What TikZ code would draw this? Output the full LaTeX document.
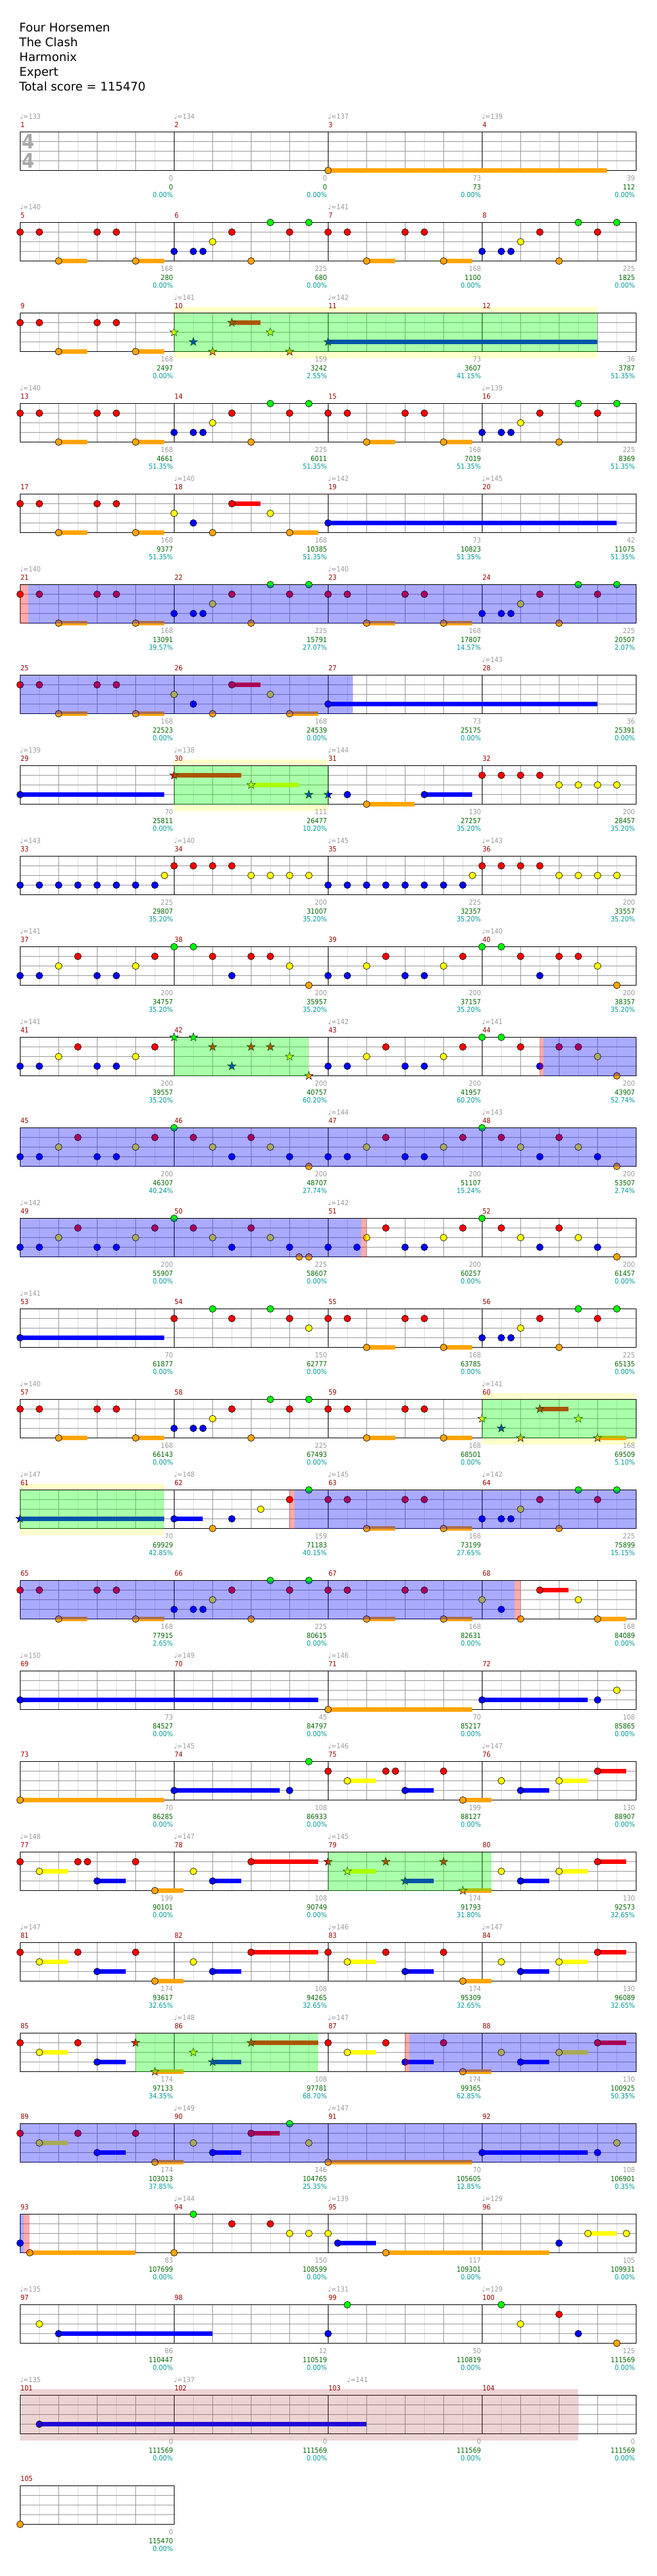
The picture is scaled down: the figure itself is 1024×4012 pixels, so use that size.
\documentclass[tikz,border=0pt]{standalone}
\usepackage{fontspec}
\setmainfont{DejaVu Sans}
\newfontfamily\djv{DejaVu Sans}
\newfontfamily\condf{DejaVu Sans Condensed}
\definecolor{lane0}{HTML}{00FF00}
\definecolor{lane1}{HTML}{FF0000}
\definecolor{lane2}{HTML}{FFFF00}
\definecolor{lane3}{HTML}{0000FF}
\definecolor{lane4}{HTML}{FFA500}
\definecolor{gridd}{HTML}{999999}
\definecolor{gridl}{HTML}{DDDDDD}
\definecolor{mnum}{HTML}{990000}
\definecolor{cumc}{HTML}{006600}
\definecolor{pctc}{HTML}{009999}
\definecolor{scc}{HTML}{999999}
\definecolor{tsgray}{HTML}{A8A8A8}
\definecolor{yel}{HTML}{FFFFCC}
\definecolor{ovG}{HTML}{00FF00}
\definecolor{ovB}{HTML}{0000FF}
\definecolor{ovR}{HTML}{FF0000}
\definecolor{ovBr}{HTML}{A52A2A}
\tikzset{
  notest/.style={draw=black,line width=0.6pt},
  gridlight/.style={draw=gridl,line width=0.9pt},
  griddark/.style={draw=gridd,line width=0.9pt},
  measl/.style={draw=black,line width=1pt},
  borderl/.style={draw=black,line width=1.3pt},
  lab/.style={font=\condf\fontsize{11}{11}\selectfont,inner sep=0pt},
  hdr/.style={font=\djv\fontsize{18.5}{18.5}\selectfont,inner sep=0pt,anchor=base west},
  tsig/.style={font=\condf\bfseries\fontsize{31}{31}\selectfont,text=tsgray,inner sep=0pt}
}
\newcount\cntA
\newcommand\setxy[3]{%
  \cntA=#1\relax\advance\cntA by -1\relax\divide\cntA by 4\relax
  \edef\mR{\the\cntA}%
  \edef\mI{\the\numexpr #1-1-4*\mR\relax}%
  \pgfmathsetmacro\xx{31.33+240*\mI+15*(#2)}%
  \pgfmathsetmacro\yy{205.5+141*\mR+15*(#3)}}
\newcommand\nt[3]{\setxy{#1}{#2}{#3}\filldraw[notest,fill=lane#3] (\xx,\yy) circle[radius=5.3];}
\newcommand\nsus[4]{\setxy{#1}{#2}{#3}\fill[lane#3] (\xx,\yy-3.2) rectangle ++(15*#4,6.4);\filldraw[notest,fill=lane#3] (\xx,\yy) circle[radius=5.3];}
\newcommand\starat[1]{\filldraw[fill=#1,draw=black,line width=0.5pt,shift={(\xx,\yy)}] (-90:6.8) -- (-54:2.8) -- (-18:6.8) -- (18:2.8) -- (54:6.8) -- (90:2.8) -- (126:6.8) -- (162:2.8) -- (198:6.8) -- (234:2.8) -- cycle;}
\newcommand\nstar[3]{\setxy{#1}{#2}{#3}\starat{lane#3}}
\newcommand\nstarsus[4]{\setxy{#1}{#2}{#3}\fill[lane#3] (\xx,\yy-3.2) rectangle ++(15*#4,6.4);\starat{lane#3}}
\newcommand\patA[1]{\nt{#1}{0}{1}\nt{#1}{2}{1}\nsus{#1}{4}{4}{3}\nt{#1}{8}{1}\nt{#1}{10}{1}\nsus{#1}{12}{4}{3}}
\newcommand\patB[1]{\nt{#1}{0}{3}\nt{#1}{2}{3}\nt{#1}{3}{3}\nt{#1}{4}{2}\nt{#1}{6}{1}\nt{#1}{8}{4}\nt{#1}{10}{0}\nt{#1}{12}{1}\nt{#1}{14}{0}}
\newcommand\patC[1]{\nt{#1}{0}{2}\nt{#1}{2}{3}\nt{#1}{4}{4}\nsus{#1}{6}{1}{3}\nt{#1}{10}{2}\nsus{#1}{12}{4}{3}}
\newcommand\patD[1]{\nt{#1}{0}{3}\nt{#1}{2}{3}\nt{#1}{4}{2}\nt{#1}{6}{1}\nt{#1}{8}{3}\nt{#1}{10}{3}\nt{#1}{12}{2}\nt{#1}{14}{1}}
\newcommand\patE[1]{\nt{#1}{0}{0}\nt{#1}{2}{0}\nt{#1}{4}{1}\nt{#1}{6}{3}\nt{#1}{8}{1}\nt{#1}{10}{1}\nt{#1}{12}{2}\nt{#1}{14}{4}}
\newcommand\patF[1]{\nt{#1}{0}{0}\nt{#1}{2}{1}\nt{#1}{4}{2}\nt{#1}{6}{3}\nt{#1}{8}{1}\nt{#1}{10}{2}\nt{#1}{12}{3}\nt{#1}{14}{4}}
\newcommand\patG[1]{\nt{#1}{0}{1}\nsus{#1}{2}{2}{3}\nt{#1}{6}{1}\nsus{#1}{8}{3}{3}\nt{#1}{12}{1}\nsus{#1}{14}{4}{3}}
\newcommand\patH[1]{\nt{#1}{2}{2}\nsus{#1}{4}{3}{3}\nsus{#1}{8}{2}{3}\nsus{#1}{12}{1}{3}}
\newcommand\patI[1]{\foreach \q in {0,2,...,14}{\nt{#1}{\q}{3}}\nt{#1}{15}{2}}
\newcommand\patJ[1]{\nt{#1}{0}{1}\nt{#1}{2}{1}\nt{#1}{4}{1}\nt{#1}{6}{1}\nt{#1}{8}{2}\nt{#1}{10}{2}\nt{#1}{12}{2}\nt{#1}{14}{2}}
\newcommand\patK[1]{\nt{#1}{2}{2}\nsus{#1}{4}{3}{3}\nsus{#1}{8}{1}{7}}
\newcommand\staffrow[2]{%
  \pgfmathsetmacro\rowT{205.5+141*#1}%
  \pgfmathsetmacro\rowR{31.33+240*#2}%
  \pgfmathtruncatemacro\nb{4*#2-1}%
  \fill[white] (31.33,\rowT) rectangle (\rowR,\rowT+60);
  \foreach \j in {0,...,\nb} {\draw[gridlight] (61.33+60*\j,\rowT) -- ++(0,60);}
  \foreach \l in {1,2,3} {\draw[griddark] (31.33,\rowT+15*\l) -- (\rowR,\rowT+15*\l);}
  \foreach \j in {1,...,\nb} {\pgfmathtruncatemacro\mm{mod(\j,4)}%
    \ifnum\mm=0 \draw[measl] (31.33+60*\j,\rowT) -- ++(0,60);\else\draw[griddark] (31.33+60*\j,\rowT) -- ++(0,60);\fi}
  \draw[borderl] (31.33,\rowT) rectangle (\rowR,\rowT+60);}
\newcommand\ovl[7]{\setxy{#3}{#4}{0}\let\xa\xx\let\ta\yy\setxy{#5}{#6}{0}\let\xb\xx
  \fill[#1,fill opacity=#2] (\xa,\ta-#7) rectangle (\xb,\ta+60+#7);}
\newcommand\mlab[4]{\setxy{#1}{16}{0}%
  \node[lab,text=scc,anchor=base east] (sc#1) at (\xx-1.5,\yy+76) {#2};
  \node[lab,text=cumc,anchor=base east] (cu#1) at (\xx-1.5,\yy+89.5) {#3};
  \node[lab,text=pctc,anchor=base east] (pc#1) at (\xx-1.5,\yy+102) {#4\%};}
\newcommand\tempo[3]{\setxy{#1}{#2}{0}\node[lab,text=scc,anchor=base west] (tp#1) at (\xx-0.5,\yy-20.5) {{\djv ♩}=#3};}
\begin{document}
\begin{tikzpicture}[x=1pt,y=-1pt]
\useasboundingbox (0,0) rectangle (1024,4012);
\fill[white] (0,0) rectangle (1024,4012);
% header
\node[hdr] (h1) at (30,49.5) {Four Horsemen};
\node[hdr] (h2) at (30,72.5) {The Clash};
\node[hdr] (h3) at (30,95.5) {Harmonix};
\node[hdr] (h4) at (30,118.5) {Expert};
\node[hdr] (h5) at (30,141.5) {Total score = 115470};
% yellow underlays
\ovl{yel}{1}{10}{0}{12}{12}{10}
\ovl{yel}{1}{30}{0}{30}{16}{10}
\ovl{yel}{1}{60}{0}{60}{16}{10}
\ovl{yel}{1}{61}{0}{61}{15}{10}
% staffs
\foreach \r in {0,...,25} {\staffrow{\r}{4}}
\staffrow{26}{1}
\node[tsig] (ts1) at (44.5,220.5) {4};
\node[tsig] (ts2) at (44.5,250.5) {4};
% notes
\nsus{3}{0}{4}{29}
\patA{5}\patB{6}\patA{7}\patB{8}
\patA{9}
\nstar{10}{0}{2}\nstar{10}{2}{3}\nstar{10}{4}{4}\nstarsus{10}{6}{1}{3}\nstar{10}{10}{2}\nstar{10}{12}{4}
\nstarsus{11}{0}{3}{28}
\patA{13}\patB{14}\patA{15}\patB{16}
\patA{17}\patC{18}\nsus{19}{0}{3}{30}
\patA{21}\patB{22}\patA{23}\patB{24}
\patA{25}\patC{26}\nsus{27}{0}{3}{28}
\nsus{29}{0}{3}{15}
\nstarsus{30}{0}{1}{7}\nstarsus{30}{8}{2}{5}\nstar{30}{14}{3}
\nstar{31}{0}{3}\nt{31}{2}{3}\nsus{31}{4}{4}{5}\nsus{31}{10}{3}{5}
\patJ{32}
\patI{33}\patJ{34}\patI{35}\patJ{36}
\patD{37}\patE{38}\patD{39}\patE{40}
\patD{41}
\nstar{42}{0}{0}\nstar{42}{2}{0}\nstar{42}{4}{1}\nstar{42}{6}{3}\nstar{42}{8}{1}\nstar{42}{10}{1}\nstar{42}{12}{2}\nstar{42}{14}{4}
\patD{43}\patE{44}
\patD{45}\patF{46}\patD{47}\patF{48}
\patD{49}\patF{50}\nt{50}{13}{4}
\nt{51}{0}{3}\nt{51}{3}{3}\nt{51}{4}{2}\nt{51}{6}{1}\nt{51}{8}{3}\nt{51}{10}{3}\nt{51}{12}{2}\nt{51}{14}{1}
\patF{52}
\nsus{53}{0}{3}{15}
\nt{54}{0}{1}\nt{54}{4}{0}\nt{54}{6}{1}\nt{54}{10}{0}\nt{54}{12}{1}\nt{54}{14}{2}
\patA{55}\patB{56}
\patA{57}\patB{58}\patA{59}
\nstar{60}{0}{2}\nstar{60}{2}{3}\nstar{60}{4}{4}\nstarsus{60}{6}{1}{3}\nstar{60}{10}{2}\nstarsus{60}{12}{4}{3}
\nstarsus{61}{0}{3}{15}
\nsus{62}{0}{3}{3}\nt{62}{4}{4}\nt{62}{6}{3}\nt{62}{9}{2}\nt{62}{12}{1}\nt{62}{14}{0}
\patA{63}\patB{64}
\patA{65}\patB{66}\patA{67}\patC{68}
\nsus{69}{0}{3}{31}\nsus{71}{0}{4}{15}\nsus{72}{0}{3}{11}\nt{72}{12}{3}\nt{72}{14}{2}
\nsus{73}{0}{4}{15}\nsus{74}{0}{3}{11}\nt{74}{12}{3}\nt{74}{14}{0}
\patG{75}\nt{75}{7}{1}\patH{76}
\patG{77}\nt{77}{7}{1}\patK{78}
\nstar{79}{0}{1}\nstarsus{79}{2}{2}{3}\nstar{79}{6}{1}\nstarsus{79}{8}{3}{3}\nstar{79}{12}{1}\nstarsus{79}{14}{4}{3}
\patH{80}
\patG{81}\patK{82}\patG{83}\patH{84}
\nt{85}{0}{1}\nsus{85}{2}{2}{3}\nt{85}{6}{1}\nsus{85}{8}{3}{3}\nstar{85}{12}{1}\nstarsus{85}{14}{4}{3}
\nstar{86}{2}{2}\nstarsus{86}{4}{3}{3}\nstarsus{86}{8}{1}{7}
\patG{87}\patH{88}
\patG{89}
\nt{90}{2}{2}\nsus{90}{4}{3}{3}\nsus{90}{8}{1}{3}\nt{90}{12}{0}\nt{90}{14}{2}
\nsus{91}{0}{4}{15}\nsus{92}{0}{3}{11}\nt{92}{12}{3}\nt{92}{14}{2}
\nt{93}{0}{3}\nsus{93}{1}{4}{11}
\nt{94}{0}{4}\nt{94}{2}{0}\nt{94}{6}{1}\nt{94}{10}{1}\nt{94}{12}{2}\nt{94}{14}{2}
\nt{95}{0}{2}\nsus{95}{1}{3}{4}\nsus{95}{6}{4}{17}
\nt{96}{8}{3}\nsus{96}{11}{2}{3}\nt{96}{15}{2}
\nt{97}{2}{2}\nsus{97}{4}{3}{16}
\nt{99}{0}{3}\nt{99}{2}{0}
\nt{100}{2}{0}\nt{100}{4}{2}\nt{100}{8}{1}\nt{100}{10}{3}\nt{100}{14}{4}
\nsus{101}{2}{3}{34}
\nt{105}{0}{4}
% overlays: phrases
\ovl{ovG}{0.333}{10}{0}{12}{12}{0}
\ovl{ovG}{0.333}{30}{0}{30}{16}{0}
\ovl{ovG}{0.333}{42}{0}{42}{14}{0}
\ovl{ovG}{0.333}{60}{0}{60}{16}{0}
\ovl{ovG}{0.333}{61}{0}{61}{15}{0}
\ovl{ovG}{0.333}{79}{0}{80}{1}{0}
\ovl{ovG}{0.333}{85}{12}{86}{15}{0}
% overlays: activation
\ovl{ovB}{0.333}{21}{0.83}{24}{16}{0}
\ovl{ovB}{0.333}{25}{0}{27}{2.57}{0}
\ovl{ovB}{0.333}{44}{6.4}{44}{16}{0}
\ovl{ovB}{0.333}{45}{0}{48}{16}{0}
\ovl{ovB}{0.333}{49}{0}{51}{3.44}{0}
\ovl{ovB}{0.333}{62}{12.52}{64}{16}{0}
\ovl{ovB}{0.333}{65}{0}{68}{3.37}{0}
\ovl{ovB}{0.333}{87}{8.44}{88}{16}{0}
\ovl{ovB}{0.333}{89}{0}{92}{16}{0}
\ovl{ovB}{0.333}{93}{0}{93}{0.39}{0}
\ovl{ovR}{0.333}{21}{0}{21}{0.83}{0}
\ovl{ovR}{0.333}{44}{6}{44}{6.4}{0}
\ovl{ovR}{0.333}{51}{3.44}{51}{4}{0}
\ovl{ovR}{0.333}{62}{12}{62}{12.52}{0}
\ovl{ovR}{0.333}{68}{3.37}{68}{3.97}{0}
\ovl{ovR}{0.333}{87}{7.97}{87}{8.44}{0}
\ovl{ovR}{0.333}{93}{0.39}{93}{0.96}{0}
\ovl{ovBr}{0.2}{101}{0}{104}{10}{10}
% measure numbers
\foreach \m in {1,...,105} {\setxy{\m}{0}{0}\node[lab,text=mnum,anchor=base west] (mn\m) at (\xx+0.5,\yy-7.5) {\m};}
% tempos
\tempo{1}{0}{133}\tempo{2}{0}{134}\tempo{3}{0}{137}\tempo{4}{0}{139}
\tempo{5}{0}{140}\tempo{7}{0}{141}\tempo{10}{0}{141}\tempo{11}{0}{142}
\tempo{13}{0}{140}\tempo{16}{0}{139}\tempo{18}{0}{140}\tempo{19}{0}{142}\tempo{20}{0}{145}
\tempo{21}{0}{140}\tempo{23}{0}{140}\tempo{28}{0}{143}
\tempo{29}{0}{139}\tempo{30}{0}{138}\tempo{31}{0}{144}
\tempo{33}{0}{143}\tempo{34}{0}{140}\tempo{35}{0}{145}\tempo{36}{0}{143}
\tempo{37}{0}{141}\tempo{40}{0}{140}\tempo{41}{0}{141}\tempo{43}{0}{142}\tempo{44}{0}{141}
\tempo{47}{0}{144}\tempo{48}{0}{143}\tempo{49}{0}{142}\tempo{51}{0}{142}
\tempo{53}{0}{141}\tempo{57}{0}{140}\tempo{60}{0}{141}
\tempo{61}{0}{147}\tempo{62}{0}{148}\tempo{63}{0}{145}\tempo{64}{0}{142}
\tempo{69}{0}{150}\tempo{70}{0}{149}\tempo{71}{0}{146}
\tempo{74}{0}{145}\tempo{75}{0}{146}\tempo{76}{0}{147}
\tempo{77}{0}{148}\tempo{78}{0}{147}\tempo{79}{0}{145}
\tempo{81}{0}{147}\tempo{83}{0}{146}\tempo{84}{0}{147}
\tempo{86}{0}{148}\tempo{87}{0}{147}\tempo{90}{0}{149}\tempo{91}{0}{147}
\tempo{94}{0}{144}\tempo{95}{0}{139}\tempo{96}{0}{129}
\tempo{97}{0}{135}\tempo{99}{0}{131}\tempo{100}{0}{129}
\tempo{101}{0}{135}\tempo{102}{0}{137}\tempo{103}{2}{141}
% labels
\mlab{1}{0}{0}{0.00}\mlab{2}{0}{0}{0.00}\mlab{3}{73}{73}{0.00}\mlab{4}{39}{112}{0.00}
\mlab{5}{168}{280}{0.00}\mlab{6}{225}{680}{0.00}\mlab{7}{168}{1100}{0.00}\mlab{8}{225}{1825}{0.00}
\mlab{9}{168}{2497}{0.00}\mlab{10}{159}{3242}{2.55}\mlab{11}{73}{3607}{41.15}\mlab{12}{36}{3787}{51.35}
\mlab{13}{168}{4661}{51.35}\mlab{14}{225}{6011}{51.35}\mlab{15}{168}{7019}{51.35}\mlab{16}{225}{8369}{51.35}
\mlab{17}{168}{9377}{51.35}\mlab{18}{168}{10385}{51.35}\mlab{19}{73}{10823}{51.35}\mlab{20}{42}{11075}{51.35}
\mlab{21}{168}{13091}{39.57}\mlab{22}{225}{15791}{27.07}\mlab{23}{168}{17807}{14.57}\mlab{24}{225}{20507}{2.07}
\mlab{25}{168}{22523}{0.00}\mlab{26}{168}{24539}{0.00}\mlab{27}{73}{25175}{0.00}\mlab{28}{36}{25391}{0.00}
\mlab{29}{70}{25811}{0.00}\mlab{30}{111}{26477}{10.20}\mlab{31}{130}{27257}{35.20}\mlab{32}{200}{28457}{35.20}
\mlab{33}{225}{29807}{35.20}\mlab{34}{200}{31007}{35.20}\mlab{35}{225}{32357}{35.20}\mlab{36}{200}{33557}{35.20}
\mlab{37}{200}{34757}{35.20}\mlab{38}{200}{35957}{35.20}\mlab{39}{200}{37157}{35.20}\mlab{40}{200}{38357}{35.20}
\mlab{41}{200}{39557}{35.20}\mlab{42}{200}{40757}{60.20}\mlab{43}{200}{41957}{60.20}\mlab{44}{200}{43907}{52.74}
\mlab{45}{200}{46307}{40.24}\mlab{46}{200}{48707}{27.74}\mlab{47}{200}{51107}{15.24}\mlab{48}{200}{53507}{2.74}
\mlab{49}{200}{55907}{0.00}\mlab{50}{225}{58607}{0.00}\mlab{51}{200}{60257}{0.00}\mlab{52}{200}{61457}{0.00}
\mlab{53}{70}{61877}{0.00}\mlab{54}{150}{62777}{0.00}\mlab{55}{168}{63785}{0.00}\mlab{56}{225}{65135}{0.00}
\mlab{57}{168}{66143}{0.00}\mlab{58}{225}{67493}{0.00}\mlab{59}{168}{68501}{0.00}\mlab{60}{168}{69509}{5.10}
\mlab{61}{70}{69929}{42.85}\mlab{62}{159}{71183}{40.15}\mlab{63}{168}{73199}{27.65}\mlab{64}{225}{75899}{15.15}
\mlab{65}{168}{77915}{2.65}\mlab{66}{225}{80615}{0.00}\mlab{67}{168}{82631}{0.00}\mlab{68}{168}{84089}{0.00}
\mlab{69}{73}{84527}{0.00}\mlab{70}{45}{84797}{0.00}\mlab{71}{70}{85217}{0.00}\mlab{72}{108}{85865}{0.00}
\mlab{73}{70}{86285}{0.00}\mlab{74}{108}{86933}{0.00}\mlab{75}{199}{88127}{0.00}\mlab{76}{130}{88907}{0.00}
\mlab{77}{199}{90101}{0.00}\mlab{78}{108}{90749}{0.00}\mlab{79}{174}{91793}{31.80}\mlab{80}{130}{92573}{32.65}
\mlab{81}{174}{93617}{32.65}\mlab{82}{108}{94265}{32.65}\mlab{83}{174}{95309}{32.65}\mlab{84}{130}{96089}{32.65}
\mlab{85}{174}{97133}{34.35}\mlab{86}{108}{97781}{68.70}\mlab{87}{174}{99365}{62.85}\mlab{88}{130}{100925}{50.35}
\mlab{89}{174}{103013}{37.85}\mlab{90}{146}{104765}{25.35}\mlab{91}{70}{105605}{12.85}\mlab{92}{108}{106901}{0.35}
\mlab{93}{83}{107699}{0.00}\mlab{94}{150}{108599}{0.00}\mlab{95}{117}{109301}{0.00}\mlab{96}{105}{109931}{0.00}
\mlab{97}{86}{110447}{0.00}\mlab{98}{12}{110519}{0.00}\mlab{99}{50}{110819}{0.00}\mlab{100}{125}{111569}{0.00}
\mlab{101}{0}{111569}{0.00}\mlab{102}{0}{111569}{0.00}\mlab{103}{0}{111569}{0.00}\mlab{104}{0}{111569}{0.00}
\mlab{105}{0}{115470}{0.00}
\end{tikzpicture}
\end{document}
